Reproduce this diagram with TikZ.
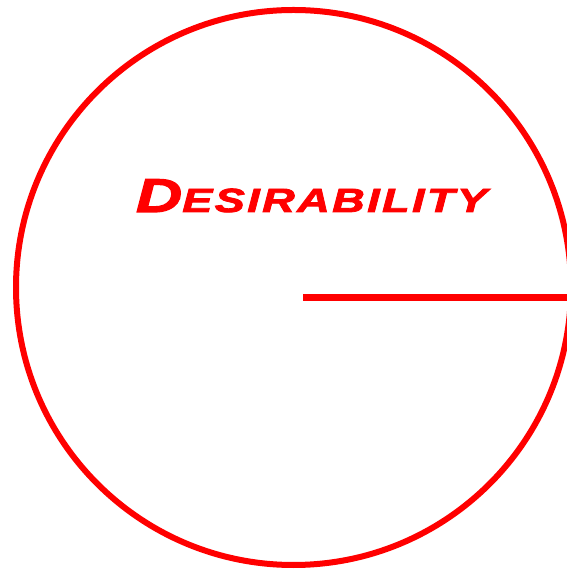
\documentclass[tikz,border=0pt]{standalone}
\usepackage{fontspec}
\setmainfont{Liberation Sans}
\newfontfamily\titlefont[FakeStretch=1.35,LetterSpace=7,FakeBold=2.5]{Liberation Sans Bold Italic}
\usepackage{tikz}
\usetikzlibrary{positioning}

\begin{document}
\begin{tikzpicture}[x=1pt, y=1pt]
\tikzset{
  ring/.style={circle, draw=red, line width=6pt, minimum size=555pt, inner sep=0pt},
  bar/.style={draw=red, line width=7pt},
  title/.style={text=red, inner sep=0pt, anchor=base},
}
\useasboundingbox (0,0) rectangle (567,570);
\node[ring] (disc) at (293.5,282.5) {};
\node[title] (label) at (311.5,358) {\titlefont{\fontsize{47.5}{50}\selectfont D}{\fontsize{33.5}{36}\selectfont ESIRABILITY}};
\coordinate (barstart) at (303,272.5);
\coordinate (barend) at (575,272.5);
\draw[bar] (barstart) -- (barend);
\end{tikzpicture}
\end{document}
